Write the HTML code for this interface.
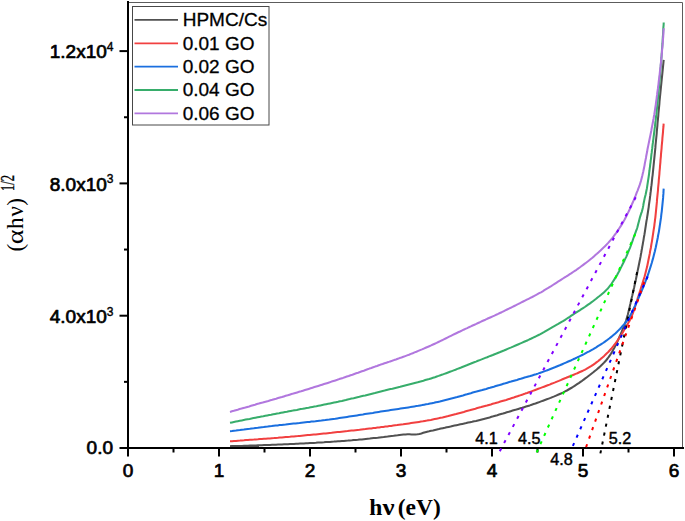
<!DOCTYPE html>
<html><head><meta charset="utf-8"><title>Tauc plot</title>
<style>html,body{margin:0;padding:0;background:#fff;}svg{display:block;}</style></head>
<body>
<svg width="685" height="521" viewBox="0 0 685 521">
<rect width="685" height="521" fill="#fff"/>
<path d="M128 2.5 H682.5 V447" fill="none" stroke="#5c5c5c" stroke-width="1"/>
<g fill="none" stroke-width="2.05" stroke-linejoin="round" stroke-linecap="butt">
<path d="M230.0 446.2 L232.0 446.1 L234.0 446.1 L236.0 446.0 L238.0 446.0 L240.0 445.9 L242.0 445.9 L244.0 445.8 L246.0 445.7 L248.0 445.7 L250.0 445.6 L252.0 445.5 L254.0 445.5 L256.0 445.4 L258.0 445.3 L260.0 445.3 L262.0 445.2 L264.0 445.1 L266.0 445.0 L268.0 445.0 L270.0 444.9 L272.0 444.8 L274.0 444.7 L276.0 444.7 L278.0 444.6 L280.0 444.5 L282.0 444.4 L284.0 444.3 L286.0 444.3 L288.0 444.2 L290.0 444.1 L292.0 444.0 L294.0 443.9 L296.0 443.8 L298.0 443.7 L300.0 443.6 L301.9 443.5 L303.9 443.4 L305.9 443.3 L307.9 443.2 L309.9 443.1 L311.9 443.0 L313.9 442.9 L315.9 442.8 L317.9 442.6 L319.9 442.5 L321.9 442.4 L323.9 442.3 L325.9 442.1 L327.9 442.0 L329.9 441.9 L331.9 441.7 L333.9 441.6 L335.9 441.4 L337.9 441.3 L339.9 441.2 L341.9 441.0 L343.9 440.9 L345.9 440.7 L347.9 440.6 L349.8 440.4 L351.8 440.3 L353.8 440.1 L355.8 439.9 L357.8 439.8 L359.8 439.6 L361.8 439.4 L363.8 439.2 L365.8 439.0 L367.8 438.8 L369.8 438.6 L371.7 438.3 L373.7 438.1 L375.7 437.9 L377.7 437.7 L379.7 437.4 L381.7 437.2 L383.7 437.0 L385.7 436.7 L387.6 436.5 L389.6 436.2 L391.6 436.0 L393.6 435.8 L395.6 435.5 L397.6 435.3 L399.6 435.0 L401.5 434.8 L403.5 434.6 L405.5 434.4 L407.5 434.3 L409.5 434.3 L411.5 434.4 L413.5 434.4 L415.5 434.4 L417.5 434.3 L419.4 433.9 L421.4 433.4 L423.3 432.8 L425.3 432.2 L427.2 431.7 L429.1 431.3 L431.1 430.8 L433.0 430.4 L435.0 429.9 L437.0 429.5 L438.9 429.1 L440.9 428.6 L442.8 428.2 L444.8 427.8 L446.7 427.3 L448.7 426.9 L450.6 426.5 L452.6 426.0 L454.5 425.6 L456.5 425.2 L458.4 424.8 L460.4 424.3 L462.3 423.9 L464.3 423.5 L466.3 423.1 L468.2 422.6 L470.2 422.2 L472.1 421.8 L474.1 421.3 L476.0 420.9 L478.0 420.4 L479.9 419.9 L481.8 419.4 L483.8 418.9 L485.7 418.4 L487.6 417.9 L489.6 417.4 L491.5 416.8 L493.4 416.3 L495.3 415.7 L497.3 415.2 L499.2 414.6 L501.1 414.0 L503.0 413.5 L504.9 412.9 L506.8 412.3 L508.8 411.8 L510.7 411.2 L512.6 410.6 L514.5 410.0 L516.4 409.5 L518.3 408.9 L520.3 408.3 L522.2 407.8 L524.1 407.2 L526.0 406.6 L527.9 406.0 L529.8 405.4 L531.7 404.7 L533.6 404.1 L535.5 403.5 L537.4 402.8 L539.3 402.1 L541.1 401.4 L543.0 400.7 L544.9 400.0 L546.8 399.3 L548.7 398.6 L550.6 397.9 L552.4 397.1 L554.3 396.4 L556.1 395.6 L558.0 394.8 L559.8 394.0 L561.6 393.2 L563.4 392.3 L565.1 391.4 L566.9 390.5 L568.6 389.5 L570.3 388.5 L572.1 387.5 L573.8 386.4 L575.4 385.3 L577.1 384.2 L578.8 383.1 L580.5 381.9 L582.1 380.8 L583.7 379.6 L585.3 378.4 L586.9 377.2 L588.5 376.0 L590.1 374.8 L591.7 373.5 L593.3 372.3 L594.8 371.0 L596.4 369.7 L597.9 368.4 L599.5 367.1 L600.9 365.7 L602.4 364.3 L603.8 362.9 L605.1 361.5 L606.4 360.0 L607.6 358.5 L608.8 356.9 L610.0 355.2 L611.1 353.5 L612.1 351.8 L613.1 350.0 L614.1 348.3 L615.0 346.5 L615.9 344.8 L616.8 343.0 L617.6 341.1 L618.4 339.3 L619.2 337.4 L620.0 335.6 L620.8 333.8 L621.6 331.9 L622.3 330.1 L623.1 328.2 L623.9 326.4 L624.6 324.5 L625.3 322.6 L626.0 320.8 L626.6 318.9 L627.1 316.9 L627.7 315.0 L628.2 313.1 L628.7 311.1 L629.1 309.2 L629.6 307.2 L630.0 305.3 L630.5 303.3 L630.9 301.4 L631.4 299.4 L631.8 297.5 L632.3 295.5 L632.7 293.6 L633.2 291.6 L633.6 289.7 L634.1 287.7 L634.5 285.8 L634.9 283.8 L635.3 281.9 L635.8 279.9 L636.2 278.0 L636.6 276.0 L637.0 274.0 L637.4 272.1 L637.8 270.1 L638.2 268.2 L638.6 266.2 L639.0 264.2 L639.4 262.3 L639.8 260.3 L640.2 258.4 L640.6 256.4 L640.9 254.4 L641.3 252.5 L641.6 250.5 L642.0 248.5 L642.3 246.6 L642.7 244.6 L643.0 242.6 L643.4 240.6 L643.7 238.7 L644.0 236.7 L644.4 234.7 L644.7 232.8 L645.0 230.8 L645.3 228.8 L645.6 226.8 L645.9 224.9 L646.2 222.9 L646.5 220.9 L646.9 218.9 L647.2 216.9 L647.5 215.0 L647.8 213.0 L648.1 211.0 L648.4 209.0 L648.7 207.1 L648.9 205.1 L649.2 203.1 L649.5 201.1 L649.8 199.1 L650.0 197.2 L650.3 195.2 L650.5 193.2 L650.8 191.2 L651.0 189.2 L651.2 187.2 L651.5 185.2 L651.7 183.3 L651.9 181.3 L652.1 179.3 L652.3 177.3 L652.6 175.3 L652.8 173.3 L653.0 171.3 L653.2 169.3 L653.4 167.3 L653.6 165.4 L653.8 163.4 L654.0 161.4 L654.2 159.4 L654.4 157.4 L654.6 155.4 L654.8 153.4 L655.0 151.4 L655.2 149.4 L655.4 147.4 L655.5 145.4 L655.7 143.5 L655.9 141.5 L656.1 139.5 L656.3 137.5 L656.5 135.5 L656.7 133.5 L656.8 131.5 L657.0 129.5 L657.2 127.5 L657.4 125.5 L657.5 123.5 L657.7 121.5 L657.9 119.6 L658.1 117.6 L658.3 115.6 L658.4 113.6 L658.6 111.6 L658.8 109.6 L659.0 107.6 L659.2 105.6 L659.4 103.6 L659.5 101.6 L659.7 99.6 L659.9 97.6 L660.1 95.7 L660.3 93.7 L660.5 91.7 L660.7 89.7 L660.9 87.7 L661.1 85.7 L661.3 83.7 L661.5 81.7 L661.7 79.7 L661.9 77.7 L662.1 75.8 L662.3 73.8 L662.5 71.8 L662.7 69.8 L662.9 67.8 L663.1 65.8 L663.3 63.8 L663.5 61.8 L663.7 59.9" stroke="#515151"/>
<path d="M230.0 441.3 L232.0 441.2 L234.0 441.0 L236.0 440.9 L238.0 440.7 L240.0 440.6 L242.0 440.4 L244.0 440.3 L246.0 440.1 L248.0 440.0 L249.9 439.8 L251.9 439.7 L253.9 439.6 L255.9 439.4 L257.9 439.3 L259.9 439.1 L261.9 439.0 L263.9 438.8 L265.9 438.7 L267.9 438.5 L269.9 438.4 L271.9 438.2 L273.9 438.1 L275.9 437.9 L277.9 437.8 L279.9 437.6 L281.9 437.5 L283.9 437.3 L285.8 437.1 L287.8 436.9 L289.8 436.8 L291.8 436.6 L293.8 436.4 L295.8 436.2 L297.8 436.1 L299.8 435.9 L301.8 435.7 L303.8 435.5 L305.8 435.3 L307.8 435.1 L309.7 434.9 L311.7 434.7 L313.7 434.5 L315.7 434.4 L317.7 434.2 L319.7 434.0 L321.7 433.8 L323.7 433.6 L325.7 433.4 L327.7 433.2 L329.6 433.0 L331.6 432.8 L333.6 432.5 L335.6 432.3 L337.6 432.1 L339.6 431.9 L341.6 431.7 L343.6 431.5 L345.6 431.3 L347.5 431.1 L349.5 430.8 L351.5 430.6 L353.5 430.4 L355.5 430.2 L357.5 430.0 L359.5 429.8 L361.5 429.5 L363.5 429.3 L365.4 429.1 L367.4 428.8 L369.4 428.6 L371.4 428.4 L373.4 428.1 L375.4 427.9 L377.4 427.6 L379.3 427.4 L381.3 427.1 L383.3 426.9 L385.3 426.6 L387.3 426.4 L389.3 426.1 L391.2 425.9 L393.2 425.6 L395.2 425.3 L397.2 425.1 L399.2 424.8 L401.2 424.5 L403.2 424.3 L405.1 424.0 L407.1 423.7 L409.1 423.4 L411.1 423.1 L413.1 422.8 L415.0 422.5 L417.0 422.2 L419.0 421.9 L421.0 421.6 L422.9 421.3 L424.9 420.9 L426.9 420.6 L428.8 420.2 L430.8 419.9 L432.7 419.5 L434.7 419.1 L436.6 418.7 L438.6 418.3 L440.5 417.8 L442.5 417.4 L444.4 416.9 L446.4 416.4 L448.3 416.0 L450.3 415.5 L452.2 415.0 L454.1 414.5 L456.1 414.0 L458.0 413.4 L460.0 412.9 L461.9 412.4 L463.8 411.9 L465.8 411.3 L467.7 410.8 L469.6 410.3 L471.5 409.7 L473.5 409.2 L475.4 408.7 L477.3 408.1 L479.3 407.6 L481.2 407.1 L483.1 406.5 L485.0 406.0 L487.0 405.5 L488.9 404.9 L490.8 404.4 L492.7 403.8 L494.7 403.3 L496.6 402.7 L498.5 402.2 L500.4 401.6 L502.3 401.0 L504.3 400.4 L506.2 399.9 L508.1 399.3 L510.0 398.7 L511.9 398.1 L513.8 397.5 L515.7 396.8 L517.6 396.2 L519.5 395.6 L521.4 394.9 L523.3 394.3 L525.2 393.6 L527.1 393.0 L528.9 392.3 L530.8 391.6 L532.7 390.9 L534.6 390.2 L536.5 389.5 L538.3 388.8 L540.2 388.1 L542.1 387.4 L544.0 386.7 L545.8 386.0 L547.7 385.3 L549.6 384.6 L551.4 383.8 L553.3 383.1 L555.1 382.4 L557.0 381.6 L558.8 380.9 L560.7 380.1 L562.5 379.3 L564.4 378.5 L566.2 377.8 L568.1 377.0 L570.0 376.2 L571.8 375.5 L573.7 374.7 L575.6 373.9 L577.4 373.2 L579.3 372.3 L581.1 371.5 L582.9 370.7 L584.7 369.8 L586.4 368.9 L588.1 367.9 L589.8 366.9 L591.5 365.9 L593.1 364.8 L594.8 363.6 L596.4 362.4 L598.0 361.2 L599.6 359.9 L601.1 358.6 L602.7 357.3 L604.2 355.9 L605.6 354.5 L607.1 353.1 L608.5 351.7 L609.8 350.3 L611.2 348.8 L612.4 347.3 L613.7 345.7 L614.9 344.1 L616.1 342.5 L617.3 340.9 L618.4 339.2 L619.5 337.6 L620.6 335.9 L621.7 334.2 L622.7 332.5 L623.7 330.7 L624.7 329.0 L625.7 327.3 L626.7 325.5 L627.8 323.8 L628.8 322.1 L629.8 320.4 L630.6 318.6 L631.4 316.8 L632.2 315.0 L632.9 313.1 L633.6 311.2 L634.2 309.3 L634.8 307.4 L635.5 305.5 L636.1 303.6 L636.7 301.6 L637.3 299.7 L637.8 297.8 L638.5 295.9 L639.1 294.0 L639.7 292.1 L640.3 290.2 L640.9 288.3 L641.5 286.4 L642.1 284.5 L642.7 282.5 L643.3 280.6 L643.9 278.7 L644.5 276.8 L645.0 274.9 L645.5 272.9 L646.0 271.0 L646.5 269.1 L647.0 267.1 L647.4 265.2 L647.8 263.2 L648.2 261.3 L648.6 259.3 L649.0 257.3 L649.4 255.4 L649.8 253.4 L650.1 251.4 L650.5 249.5 L650.9 247.5 L651.2 245.5 L651.5 243.6 L651.9 241.6 L652.2 239.6 L652.5 237.6 L652.8 235.7 L653.1 233.7 L653.4 231.7 L653.7 229.7 L654.0 227.8 L654.3 225.8 L654.5 223.8 L654.8 221.8 L655.0 219.8 L655.3 217.8 L655.5 215.8 L655.7 213.9 L655.9 211.9 L656.1 209.9 L656.3 207.9 L656.5 205.9 L656.7 203.9 L656.9 201.9 L657.0 199.9 L657.2 197.9 L657.4 195.9 L657.6 193.9 L657.8 192.0 L658.0 190.0 L658.1 188.0 L658.3 186.0 L658.5 184.0 L658.7 182.0 L658.8 180.0 L659.0 178.0 L659.2 176.0 L659.4 174.0 L659.5 172.0 L659.7 170.0 L659.9 168.0 L660.0 166.1 L660.2 164.1 L660.4 162.1 L660.5 160.1 L660.7 158.1 L660.9 156.1 L661.0 154.1 L661.2 152.1 L661.4 150.1 L661.6 148.1 L661.7 146.1 L661.9 144.1 L662.1 142.1 L662.3 140.1 L662.4 138.2 L662.6 136.2 L662.8 134.2 L663.0 132.2 L663.1 130.2 L663.3 128.2 L663.5 126.2 L663.6 124.2 L663.7 123.6" stroke="#F14040"/>
<path d="M230.0 431.2 L232.0 431.0 L234.0 430.7 L236.0 430.5 L237.9 430.2 L239.9 430.0 L241.9 429.7 L243.9 429.5 L245.9 429.2 L247.9 429.0 L249.8 428.8 L251.8 428.5 L253.8 428.3 L255.8 428.0 L257.8 427.8 L259.8 427.5 L261.8 427.3 L263.7 427.1 L265.7 426.8 L267.7 426.6 L269.7 426.3 L271.7 426.1 L273.7 425.8 L275.7 425.6 L277.6 425.4 L279.6 425.1 L281.6 424.9 L283.6 424.7 L285.6 424.5 L287.6 424.2 L289.6 424.0 L291.6 423.8 L293.5 423.6 L295.5 423.4 L297.5 423.2 L299.5 423.0 L301.5 422.7 L303.5 422.5 L305.5 422.3 L307.5 422.1 L309.5 421.9 L311.4 421.6 L313.4 421.4 L315.4 421.2 L317.4 420.9 L319.4 420.7 L321.4 420.5 L323.4 420.2 L325.3 420.0 L327.3 419.7 L329.3 419.5 L331.3 419.2 L333.3 418.9 L335.3 418.7 L337.2 418.4 L339.2 418.1 L341.2 417.8 L343.2 417.5 L345.2 417.2 L347.1 416.9 L349.1 416.6 L351.1 416.3 L353.1 416.0 L355.0 415.7 L357.0 415.4 L359.0 415.1 L361.0 414.8 L362.9 414.5 L364.9 414.1 L366.9 413.8 L368.9 413.5 L370.8 413.2 L372.8 412.9 L374.8 412.5 L376.8 412.2 L378.7 411.9 L380.7 411.6 L382.7 411.3 L384.7 411.0 L386.6 410.7 L388.6 410.4 L390.6 410.1 L392.6 409.8 L394.6 409.5 L396.5 409.2 L398.5 408.9 L400.5 408.6 L402.5 408.3 L404.5 408.0 L406.4 407.7 L408.4 407.4 L410.4 407.1 L412.4 406.7 L414.3 406.4 L416.3 406.1 L418.3 405.8 L420.3 405.4 L422.2 405.1 L424.2 404.7 L426.1 404.3 L428.1 404.0 L430.1 403.6 L432.0 403.2 L434.0 402.8 L435.9 402.3 L437.9 401.9 L439.8 401.5 L441.8 401.0 L443.7 400.5 L445.6 400.0 L447.6 399.5 L449.5 399.0 L451.4 398.5 L453.4 398.0 L455.3 397.5 L457.2 397.0 L459.2 396.4 L461.1 395.9 L463.0 395.4 L465.0 394.8 L466.9 394.3 L468.8 393.7 L470.8 393.2 L472.7 392.6 L474.6 392.1 L476.5 391.6 L478.5 391.0 L480.4 390.5 L482.3 390.0 L484.2 389.4 L486.2 388.9 L488.1 388.3 L490.0 387.8 L491.9 387.2 L493.8 386.7 L495.8 386.1 L497.7 385.5 L499.6 385.0 L501.5 384.4 L503.4 383.8 L505.4 383.3 L507.3 382.7 L509.2 382.1 L511.1 381.6 L513.0 381.0 L514.9 380.4 L516.9 379.9 L518.8 379.3 L520.7 378.8 L522.6 378.2 L524.6 377.6 L526.5 377.1 L528.4 376.5 L530.3 376.0 L532.2 375.4 L534.1 374.8 L536.1 374.2 L537.9 373.6 L539.8 372.9 L541.7 372.3 L543.6 371.6 L545.5 370.9 L547.4 370.2 L549.2 369.5 L551.1 368.7 L553.0 368.0 L554.8 367.3 L556.7 366.5 L558.5 365.7 L560.4 365.0 L562.2 364.2 L564.0 363.4 L565.9 362.6 L567.7 361.8 L569.5 361.0 L571.4 360.2 L573.2 359.3 L575.0 358.5 L576.8 357.6 L578.6 356.8 L580.4 355.9 L582.2 355.0 L584.0 354.1 L585.8 353.1 L587.5 352.2 L589.3 351.3 L591.0 350.3 L592.8 349.3 L594.5 348.3 L596.2 347.3 L597.9 346.2 L599.6 345.2 L601.3 344.1 L603.0 343.0 L604.7 341.8 L606.3 340.7 L607.9 339.5 L609.5 338.3 L611.0 337.1 L612.6 335.8 L614.1 334.5 L615.6 333.2 L617.1 331.8 L618.5 330.4 L619.9 329.0 L621.3 327.5 L622.6 326.0 L624.0 324.5 L625.3 323.0 L626.5 321.4 L627.6 319.8 L628.7 318.1 L629.7 316.4 L630.6 314.7 L631.6 312.9 L632.5 311.1 L633.4 309.3 L634.2 307.5 L635.1 305.7 L635.9 303.8 L636.7 302.0 L637.5 300.1 L638.4 298.3 L639.2 296.5 L640.0 294.7 L640.8 292.8 L641.6 291.0 L642.4 289.1 L643.2 287.3 L643.9 285.4 L644.7 283.6 L645.4 281.7 L646.1 279.9 L646.9 278.0 L647.5 276.1 L648.2 274.2 L648.8 272.3 L649.4 270.4 L650.0 268.5 L650.6 266.6 L651.2 264.7 L651.8 262.8 L652.3 260.9 L652.9 258.9 L653.4 257.0 L653.9 255.1 L654.4 253.1 L654.9 251.2 L655.3 249.2 L655.8 247.3 L656.2 245.3 L656.6 243.4 L657.0 241.4 L657.4 239.5 L657.8 237.5 L658.1 235.5 L658.5 233.6 L658.9 231.6 L659.2 229.6 L659.5 227.6 L659.8 225.7 L660.1 223.7 L660.4 221.7 L660.7 219.7 L661.0 217.7 L661.2 215.7 L661.4 213.8 L661.7 211.8 L661.9 209.8 L662.1 207.8 L662.3 205.8 L662.5 203.8 L662.7 201.8 L662.9 199.8 L663.1 197.9 L663.2 195.9 L663.4 193.9 L663.5 191.9 L663.6 189.9 L663.7 188.6" stroke="#1A6FDF"/>
<path d="M230.0 422.8 L232.0 422.4 L233.9 422.0 L235.9 421.6 L237.8 421.2 L239.8 420.8 L241.8 420.4 L243.7 420.0 L245.7 419.6 L247.6 419.2 L249.6 418.9 L251.6 418.5 L253.5 418.1 L255.5 417.7 L257.5 417.3 L259.4 416.9 L261.4 416.5 L263.3 416.2 L265.3 415.8 L267.3 415.4 L269.2 415.0 L271.2 414.7 L273.2 414.3 L275.1 413.9 L277.1 413.5 L279.1 413.2 L281.0 412.8 L283.0 412.4 L285.0 412.0 L286.9 411.7 L288.9 411.3 L290.9 410.9 L292.8 410.6 L294.8 410.2 L296.8 409.9 L298.7 409.5 L300.7 409.1 L302.7 408.8 L304.6 408.4 L306.6 408.0 L308.6 407.7 L310.5 407.3 L312.5 406.9 L314.4 406.5 L316.4 406.2 L318.4 405.8 L320.3 405.4 L322.3 405.0 L324.3 404.6 L326.2 404.2 L328.2 403.8 L330.1 403.4 L332.1 403.0 L334.1 402.6 L336.0 402.2 L338.0 401.8 L339.9 401.3 L341.9 400.9 L343.8 400.4 L345.8 400.0 L347.7 399.5 L349.7 399.1 L351.6 398.6 L353.6 398.2 L355.5 397.7 L357.4 397.2 L359.4 396.8 L361.3 396.3 L363.3 395.8 L365.2 395.4 L367.2 394.9 L369.1 394.4 L371.1 393.9 L373.0 393.4 L374.9 393.0 L376.9 392.5 L378.8 392.0 L380.8 391.5 L382.7 391.0 L384.6 390.6 L386.6 390.1 L388.5 389.6 L390.5 389.1 L392.4 388.7 L394.4 388.2 L396.3 387.7 L398.3 387.2 L400.2 386.8 L402.2 386.3 L404.1 385.8 L406.0 385.3 L408.0 384.8 L409.9 384.3 L411.9 383.8 L413.8 383.3 L415.7 382.8 L417.7 382.3 L419.6 381.7 L421.5 381.2 L423.4 380.7 L425.3 380.1 L427.3 379.5 L429.2 379.0 L431.1 378.4 L433.0 377.8 L434.9 377.2 L436.8 376.5 L438.6 375.9 L440.5 375.2 L442.4 374.6 L444.3 373.9 L446.2 373.2 L448.1 372.5 L449.9 371.8 L451.8 371.1 L453.7 370.4 L455.5 369.7 L457.4 368.9 L459.3 368.2 L461.1 367.5 L463.0 366.7 L464.9 366.0 L466.7 365.3 L468.6 364.5 L470.4 363.8 L472.3 363.0 L474.2 362.3 L476.0 361.6 L477.9 360.8 L479.8 360.1 L481.6 359.4 L483.5 358.6 L485.3 357.9 L487.2 357.2 L489.1 356.4 L490.9 355.7 L492.8 355.0 L494.6 354.2 L496.5 353.5 L498.4 352.7 L500.2 352.0 L502.1 351.2 L503.9 350.5 L505.8 349.7 L507.6 348.9 L509.4 348.1 L511.3 347.4 L513.1 346.6 L515.0 345.8 L516.8 345.0 L518.6 344.2 L520.5 343.4 L522.3 342.6 L524.1 341.8 L526.0 341.0 L527.8 340.2 L529.6 339.3 L531.4 338.5 L533.2 337.6 L535.0 336.8 L536.8 335.9 L538.6 335.0 L540.4 334.1 L542.2 333.1 L543.9 332.2 L545.6 331.2 L547.4 330.1 L549.1 329.1 L550.8 328.1 L552.5 327.1 L554.3 326.1 L556.0 325.2 L557.8 324.2 L559.5 323.2 L561.2 322.2 L563.0 321.2 L564.7 320.1 L566.3 319.0 L568.0 317.9 L569.7 316.8 L571.3 315.7 L573.0 314.6 L574.7 313.5 L576.4 312.4 L578.0 311.3 L579.7 310.3 L581.4 309.2 L583.1 308.1 L584.8 307.0 L586.4 305.9 L588.1 304.7 L589.7 303.6 L591.3 302.4 L592.9 301.2 L594.5 300.0 L596.1 298.8 L597.6 297.5 L599.2 296.3 L600.8 295.0 L602.3 293.7 L603.8 292.4 L605.3 291.0 L606.7 289.6 L608.1 288.2 L609.3 286.7 L610.5 285.1 L611.7 283.5 L612.8 281.8 L613.9 280.1 L615.0 278.4 L616.1 276.7 L617.1 275.0 L618.0 273.2 L619.0 271.5 L619.9 269.7 L620.8 267.9 L621.7 266.1 L622.6 264.3 L623.5 262.5 L624.4 260.7 L625.2 258.9 L626.1 257.1 L626.9 255.3 L627.7 253.4 L628.4 251.6 L629.2 249.7 L630.0 247.9 L630.7 246.0 L631.4 244.1 L632.0 242.3 L632.7 240.4 L633.3 238.5 L634.0 236.6 L634.7 234.7 L635.4 232.8 L636.1 230.9 L636.8 229.1 L637.4 227.2 L637.9 225.2 L638.4 223.3 L638.9 221.4 L639.4 219.4 L639.9 217.5 L640.5 215.6 L641.1 213.7 L641.8 211.8 L642.3 209.9 L642.8 207.9 L643.2 206.0 L643.5 204.0 L643.9 202.0 L644.3 200.1 L644.7 198.1 L645.2 196.2 L645.7 194.2 L646.1 192.3 L646.5 190.3 L646.9 188.4 L647.2 186.4 L647.5 184.4 L647.8 182.4 L648.1 180.4 L648.4 178.5 L648.7 176.5 L649.0 174.5 L649.2 172.5 L649.5 170.5 L649.7 168.6 L650.0 166.6 L650.2 164.6 L650.5 162.6 L650.7 160.6 L651.0 158.6 L651.2 156.6 L651.4 154.7 L651.7 152.7 L651.9 150.7 L652.2 148.7 L652.4 146.7 L652.6 144.7 L652.9 142.7 L653.1 140.8 L653.4 138.8 L653.6 136.8 L653.9 134.8 L654.1 132.8 L654.4 130.8 L654.6 128.8 L654.9 126.9 L655.1 124.9 L655.3 122.9 L655.6 120.9 L655.8 118.9 L656.0 116.9 L656.3 114.9 L656.5 113.0 L656.7 111.0 L656.9 109.0 L657.1 107.0 L657.3 105.0 L657.5 103.0 L657.7 101.0 L657.9 99.0 L658.1 97.0 L658.3 95.1 L658.4 93.1 L658.6 91.1 L658.8 89.1 L659.0 87.1 L659.2 85.1 L659.3 83.1 L659.5 81.1 L659.7 79.1 L659.9 77.1 L660.0 75.1 L660.2 73.1 L660.4 71.2 L660.5 69.2 L660.7 67.2 L660.8 65.2 L661.0 63.2 L661.2 61.2 L661.3 59.2 L661.5 57.2 L661.6 55.2 L661.8 53.2 L661.9 51.2 L662.0 49.2 L662.2 47.2 L662.3 45.2 L662.5 43.2 L662.6 41.2 L662.7 39.2 L662.8 37.2 L663.0 35.2 L663.1 33.2 L663.2 31.2 L663.3 29.2 L663.4 27.2 L663.6 25.3 L663.7 23.3 L663.7 22.5" stroke="#37AD6B"/>
<path d="M230.0 411.9 L231.9 411.3 L233.8 410.8 L235.8 410.2 L237.7 409.7 L239.6 409.1 L241.5 408.6 L243.5 408.0 L245.4 407.5 L247.3 406.9 L249.2 406.4 L251.1 405.8 L253.1 405.2 L255.0 404.7 L256.9 404.1 L258.8 403.6 L260.7 403.0 L262.7 402.5 L264.6 401.9 L266.5 401.4 L268.4 400.9 L270.4 400.3 L272.3 399.8 L274.2 399.2 L276.1 398.7 L278.1 398.1 L280.0 397.5 L281.9 397.0 L283.8 396.4 L285.7 395.8 L287.7 395.3 L289.6 394.7 L291.5 394.1 L293.4 393.6 L295.3 393.0 L297.2 392.4 L299.1 391.8 L301.1 391.3 L303.0 390.7 L304.9 390.1 L306.8 389.5 L308.7 388.9 L310.6 388.3 L312.5 387.7 L314.4 387.1 L316.3 386.5 L318.2 385.9 L320.2 385.3 L322.1 384.7 L324.0 384.1 L325.9 383.5 L327.8 382.9 L329.7 382.3 L331.6 381.6 L333.5 381.0 L335.4 380.4 L337.3 379.8 L339.2 379.1 L341.1 378.5 L343.0 377.9 L344.9 377.2 L346.8 376.6 L348.7 376.0 L350.6 375.3 L352.4 374.7 L354.3 374.0 L356.2 373.3 L358.1 372.7 L360.0 372.0 L361.9 371.3 L363.8 370.7 L365.6 370.0 L367.5 369.3 L369.4 368.6 L371.3 368.0 L373.2 367.3 L375.1 366.6 L377.0 366.0 L378.8 365.3 L380.7 364.6 L382.6 364.0 L384.5 363.3 L386.4 362.7 L388.3 362.1 L390.2 361.4 L392.1 360.8 L394.0 360.1 L395.9 359.5 L397.8 358.8 L399.6 358.1 L401.5 357.5 L403.4 356.8 L405.3 356.1 L407.1 355.4 L409.0 354.7 L410.9 353.9 L412.7 353.2 L414.6 352.4 L416.4 351.7 L418.3 350.9 L420.1 350.1 L422.0 349.4 L423.8 348.6 L425.6 347.8 L427.5 347.0 L429.3 346.2 L431.1 345.4 L433.0 344.5 L434.8 343.7 L436.6 342.9 L438.4 342.0 L440.2 341.1 L442.0 340.3 L443.8 339.4 L445.6 338.5 L447.4 337.6 L449.2 336.7 L451.0 335.8 L452.8 334.9 L454.6 334.0 L456.3 333.2 L458.2 332.3 L460.0 331.5 L461.8 330.6 L463.6 329.7 L465.4 328.9 L467.2 328.1 L469.0 327.2 L470.8 326.4 L472.6 325.5 L474.5 324.7 L476.3 323.9 L478.1 323.0 L479.9 322.2 L481.7 321.3 L483.5 320.5 L485.4 319.7 L487.2 318.8 L489.0 318.0 L490.8 317.2 L492.7 316.4 L494.5 315.6 L496.3 314.7 L498.1 313.9 L499.9 313.0 L501.7 312.2 L503.5 311.3 L505.3 310.4 L507.1 309.5 L508.9 308.6 L510.7 307.8 L512.5 306.9 L514.3 306.0 L516.1 305.1 L517.9 304.2 L519.6 303.3 L521.4 302.4 L523.2 301.5 L525.0 300.6 L526.8 299.7 L528.6 298.8 L530.4 297.9 L532.2 297.0 L533.9 296.1 L535.7 295.2 L537.5 294.2 L539.2 293.2 L541.0 292.3 L542.7 291.3 L544.4 290.2 L546.1 289.2 L547.8 288.2 L549.5 287.1 L551.2 286.1 L552.9 285.0 L554.6 283.9 L556.3 282.8 L558.0 281.7 L559.7 280.7 L561.3 279.6 L563.0 278.5 L564.7 277.4 L566.4 276.4 L568.1 275.3 L569.8 274.2 L571.5 273.1 L573.1 272.0 L574.8 270.9 L576.5 269.8 L578.1 268.6 L579.7 267.5 L581.3 266.3 L582.9 265.1 L584.5 263.9 L586.1 262.7 L587.7 261.5 L589.3 260.2 L590.8 259.0 L592.4 257.7 L593.9 256.4 L595.4 255.1 L596.9 253.8 L598.4 252.4 L599.9 251.1 L601.3 249.7 L602.8 248.3 L604.2 246.9 L605.7 245.5 L607.0 244.1 L608.4 242.6 L609.7 241.1 L611.0 239.6 L612.3 238.1 L613.5 236.5 L614.7 234.9 L615.9 233.3 L617.1 231.6 L618.2 230.0 L619.3 228.3 L620.4 226.6 L621.5 224.9 L622.5 223.2 L623.5 221.5 L624.5 219.8 L625.4 218.0 L626.3 216.2 L627.2 214.4 L628.1 212.6 L629.0 210.8 L629.8 209.0 L630.7 207.2 L631.5 205.4 L632.3 203.5 L633.1 201.7 L633.9 199.9 L634.6 198.0 L635.4 196.1 L636.1 194.3 L636.8 192.4 L637.6 190.6 L638.3 188.7 L639.0 186.8 L639.7 184.9 L640.3 183.0 L640.9 181.1 L641.4 179.2 L641.9 177.3 L642.4 175.3 L642.8 173.4 L643.3 171.4 L643.7 169.5 L644.1 167.5 L644.5 165.6 L644.8 163.6 L645.2 161.6 L645.6 159.6 L646.0 157.7 L646.3 155.7 L646.7 153.7 L647.1 151.8 L647.4 149.8 L647.8 147.8 L648.2 145.9 L648.6 143.9 L649.0 142.0 L649.4 140.0 L649.8 138.0 L650.2 136.1 L650.6 134.1 L651.0 132.1 L651.4 130.2 L651.7 128.2 L652.1 126.2 L652.5 124.3 L652.9 122.3 L653.2 120.3 L653.6 118.4 L653.9 116.4 L654.3 114.4 L654.6 112.5 L654.9 110.5 L655.2 108.5 L655.5 106.5 L655.8 104.6 L656.0 102.6 L656.3 100.6 L656.6 98.6 L656.8 96.6 L657.1 94.7 L657.3 92.7 L657.6 90.7 L657.9 88.7 L658.1 86.7 L658.4 84.8 L658.6 82.8 L658.8 80.8 L659.1 78.8 L659.3 76.8 L659.6 74.8 L659.8 72.9 L660.0 70.9 L660.2 68.9 L660.5 66.9 L660.7 64.9 L660.9 62.9 L661.1 60.9 L661.3 58.9 L661.5 56.9 L661.7 54.9 L661.9 53.0 L662.0 51.0 L662.2 49.0 L662.4 47.0 L662.6 45.0 L662.7 43.0 L662.9 41.0 L663.0 39.0 L663.2 37.0 L663.3 35.0 L663.4 33.0 L663.5 31.0 L663.7 29.0 L663.7 28.2" stroke="#B177DE"/>
</g>
<path d="M230 446.7 L259 446.2" stroke="#515151" stroke-width="1.8" fill="none"/>
<g stroke="#000" stroke-width="2" fill="none">
<path d="M128 1 V456.5"/>
<path d="M119.5 448 H684"/>
<path d="M219 448 V456.5"/>
<path d="M310 448 V456.5"/>
<path d="M401 448 V456.5"/>
<path d="M492 448 V456.5"/>
<path d="M583 448 V456.5"/>
<path d="M674 448 V456.5"/>
<path d="M173.5 448 V452.5"/>
<path d="M264.5 448 V452.5"/>
<path d="M355.5 448 V452.5"/>
<path d="M446.5 448 V452.5"/>
<path d="M537.5 448 V452.5"/>
<path d="M628.5 448 V452.5"/>
<path d="M119.5 315.70 H128"/>
<path d="M119.5 183.40 H128"/>
<path d="M119.5 51.10 H128"/>
<path d="M124 381.85 H128"/>
<path d="M124 249.55 H128"/>
<path d="M124 117.25 H128"/>
</g>
<g fill="none" stroke-width="2.0">
<path d="M600.39 453.42 L637.11 272.08" stroke="#000000" stroke-dasharray="3.1 5.996"/>
<path d="M586.08 447.16 L644.32 282.14" stroke="#FF0000" stroke-dasharray="3.1 5.947"/>
<path d="M572.87 445.92 L647.63 276.48" stroke="#0000FF" stroke-dasharray="3.1 6.005"/>
<path d="M536.66 452.41 L635.24 233.99" stroke="#00FF00" stroke-dasharray="3.1 5.998"/>
<path d="M499.77 451.17 L635.73 197.33" stroke="#8000FF" stroke-dasharray="3.1 6.089"/>
</g>
<g font-family="Liberation Sans, sans-serif" font-size="19" fill="#000" stroke="#000" stroke-width="0.72" stroke-linejoin="round">
<text x="128" y="476.7" text-anchor="middle">0</text>
<text x="219" y="476.7" text-anchor="middle">1</text>
<text x="310" y="476.7" text-anchor="middle">2</text>
<text x="401" y="476.7" text-anchor="middle">3</text>
<text x="492" y="476.7" text-anchor="middle">4</text>
<text x="583" y="476.7" text-anchor="middle">5</text>
<text x="674" y="476.7" text-anchor="middle">6</text>
<text x="113" y="453.7" text-anchor="end">0.0</text>
<text x="113.5" y="322.9" text-anchor="end">4.0x10<tspan font-size="12" dy="-7.2" stroke-width="0.4">3</tspan></text>
<text x="113.5" y="190.6" text-anchor="end">8.0x10<tspan font-size="12" dy="-7.2" stroke-width="0.4">3</tspan></text>
<text x="113.5" y="58.3" text-anchor="end">1.2x10<tspan font-size="12" dy="-7.2" stroke-width="0.4">4</tspan></text>
</g>
<g font-family="Liberation Sans, sans-serif" font-size="16.2" fill="#000" stroke="#000" stroke-width="0.45" stroke-linejoin="round">
<text x="475.3" y="443.5">4.1</text>
<text x="518.1" y="443.6">4.5</text>
<text x="550.2" y="464.6">4.8</text>
<text x="608.8" y="444.1">5.2</text>
</g>
<rect x="132.5" y="6.5" width="136.5" height="118.5" fill="#fff" stroke="#484848" stroke-width="1"/>
<g font-family="Liberation Sans, sans-serif" font-size="19" fill="#000" stroke="#000" stroke-width="0.3">
<path d="M134.5 19.9 H178" stroke="#515151" stroke-width="1.8" fill="none"/>
<text x="182.7" y="26.3">HPMC/Cs</text>
<path d="M134.5 43.3 H178" stroke="#F14040" stroke-width="1.8" fill="none"/>
<text x="182.7" y="49.7">0.01 GO</text>
<path d="M134.5 66.7 H178" stroke="#1A6FDF" stroke-width="1.8" fill="none"/>
<text x="182.7" y="73.1">0.02 GO</text>
<path d="M134.5 90 H178" stroke="#37AD6B" stroke-width="1.8" fill="none"/>
<text x="182.7" y="96.4">0.04 GO</text>
<path d="M134.5 113.3 H178" stroke="#B177DE" stroke-width="1.8" fill="none"/>
<text x="182.7" y="119.7">0.06 GO</text>
</g>
<g font-family="Liberation Serif, serif" font-weight="bold" font-size="23.5" fill="#000">
<text x="369.3" y="515.2">h</text>
<text transform="translate(382.4 515.2) scale(1.15 1)">ν</text>
<text x="397.7" y="515.2">(eV)</text>
</g>
<g transform="translate(23.0 251.6) rotate(-90)" font-family="Liberation Serif, serif" font-size="23" fill="#000">
<text x="0" y="0">(</text>
<text transform="translate(7.4 0) scale(1.22 1)">α</text>
<text x="22.5" y="0">h</text>
<text x="35.0" y="0">ν</text>
<text x="45.8" y="0">)</text>
<text transform="translate(60.6 -9.0) scale(0.7 1)" font-size="18" stroke="#000" stroke-width="0.35">1/2</text>
</g>
</svg>
</body></html>
